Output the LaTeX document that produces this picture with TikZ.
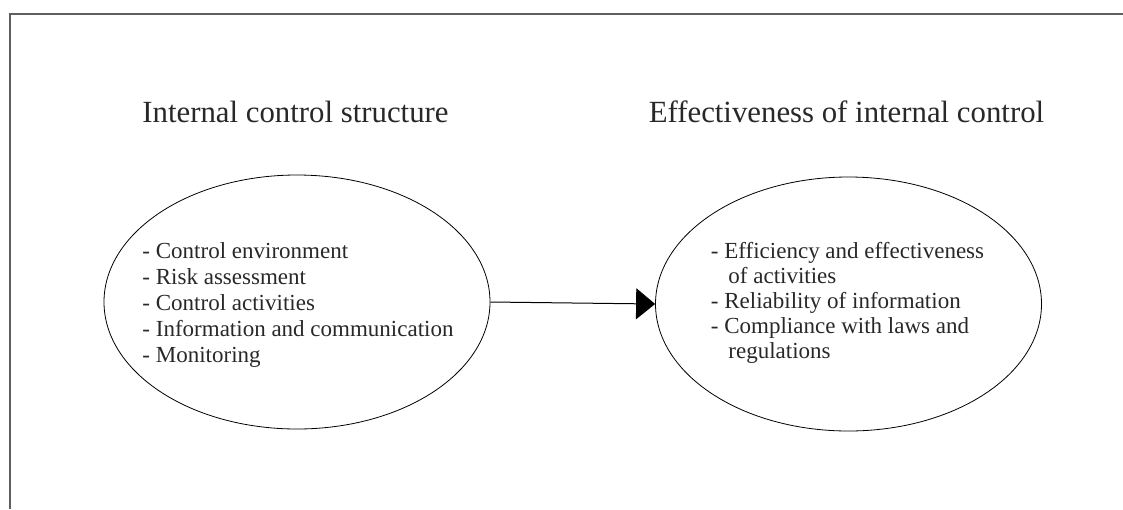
\documentclass[tikz,border=0pt]{standalone}
\usepackage{fontspec}
\setmainfont{Liberation Serif}
\usetikzlibrary{shapes.geometric, arrows.meta}

\definecolor{frameGray}{RGB}{95,95,95}
\definecolor{textGray}{RGB}{40,40,40}

\begin{document}
\begin{tikzpicture}[x=1pt, y=-1pt,
    oval/.style={draw, ellipse, line width=0.8pt, minimum width=386pt, minimum height=254pt, inner sep=0pt},
    heading/.style={anchor=base, text=textGray, inner sep=0pt, font=\fontsize{30.8}{36}\selectfont},
    items/.style={align=left, text=textGray, inner sep=0pt},
    link/.style={line width=1pt, -{Triangle[length=19pt, width=31pt]}}]
    % Fix the page to the size of the reference
    \useasboundingbox (0,0) rectangle (1123,509);

    % Define the corners of the (cut off) frame
    \coordinate (frameBottom) at (9.5,509);
    \coordinate (frameCorner) at (9.5,14);
    \coordinate (frameRight) at (1123,14);
    \draw[frameGray, line width=2pt] (frameBottom) -- (frameCorner) -- (frameRight);

    % Headings
    \node[heading] (structTitle) at (295.5,122) {Internal control structure};
    \node[heading] (effectTitle) at (846.5,122) {Effectiveness of internal control};

    % The two ellipses
    \node[oval] (structOval) at (297,302) {};
    \node[oval] (effectOval) at (848.5,304) {};

    % Lists inside the ellipses
    \node[items, font=\fontsize{23}{26}\selectfont] (structItems) at (298,304.5)
        {- Control environment\\
         - Risk assessment\\
         - Control activities\\
         - Information and communication\\
         - Monitoring};
    \node[items, font=\fontsize{23}{25}\selectfont] (effectItems) at (847.5,302.5)
        {- Efficiency and effectiveness\\
         \hspace*{17.5pt}of activities\\
         - Reliability of information\\
         - Compliance with laws and\\
         \hspace*{17.5pt}regulations};

    % Draw the arrow
    \draw[link] (structOval.east) -- (effectOval.west);
\end{tikzpicture}
\end{document}
